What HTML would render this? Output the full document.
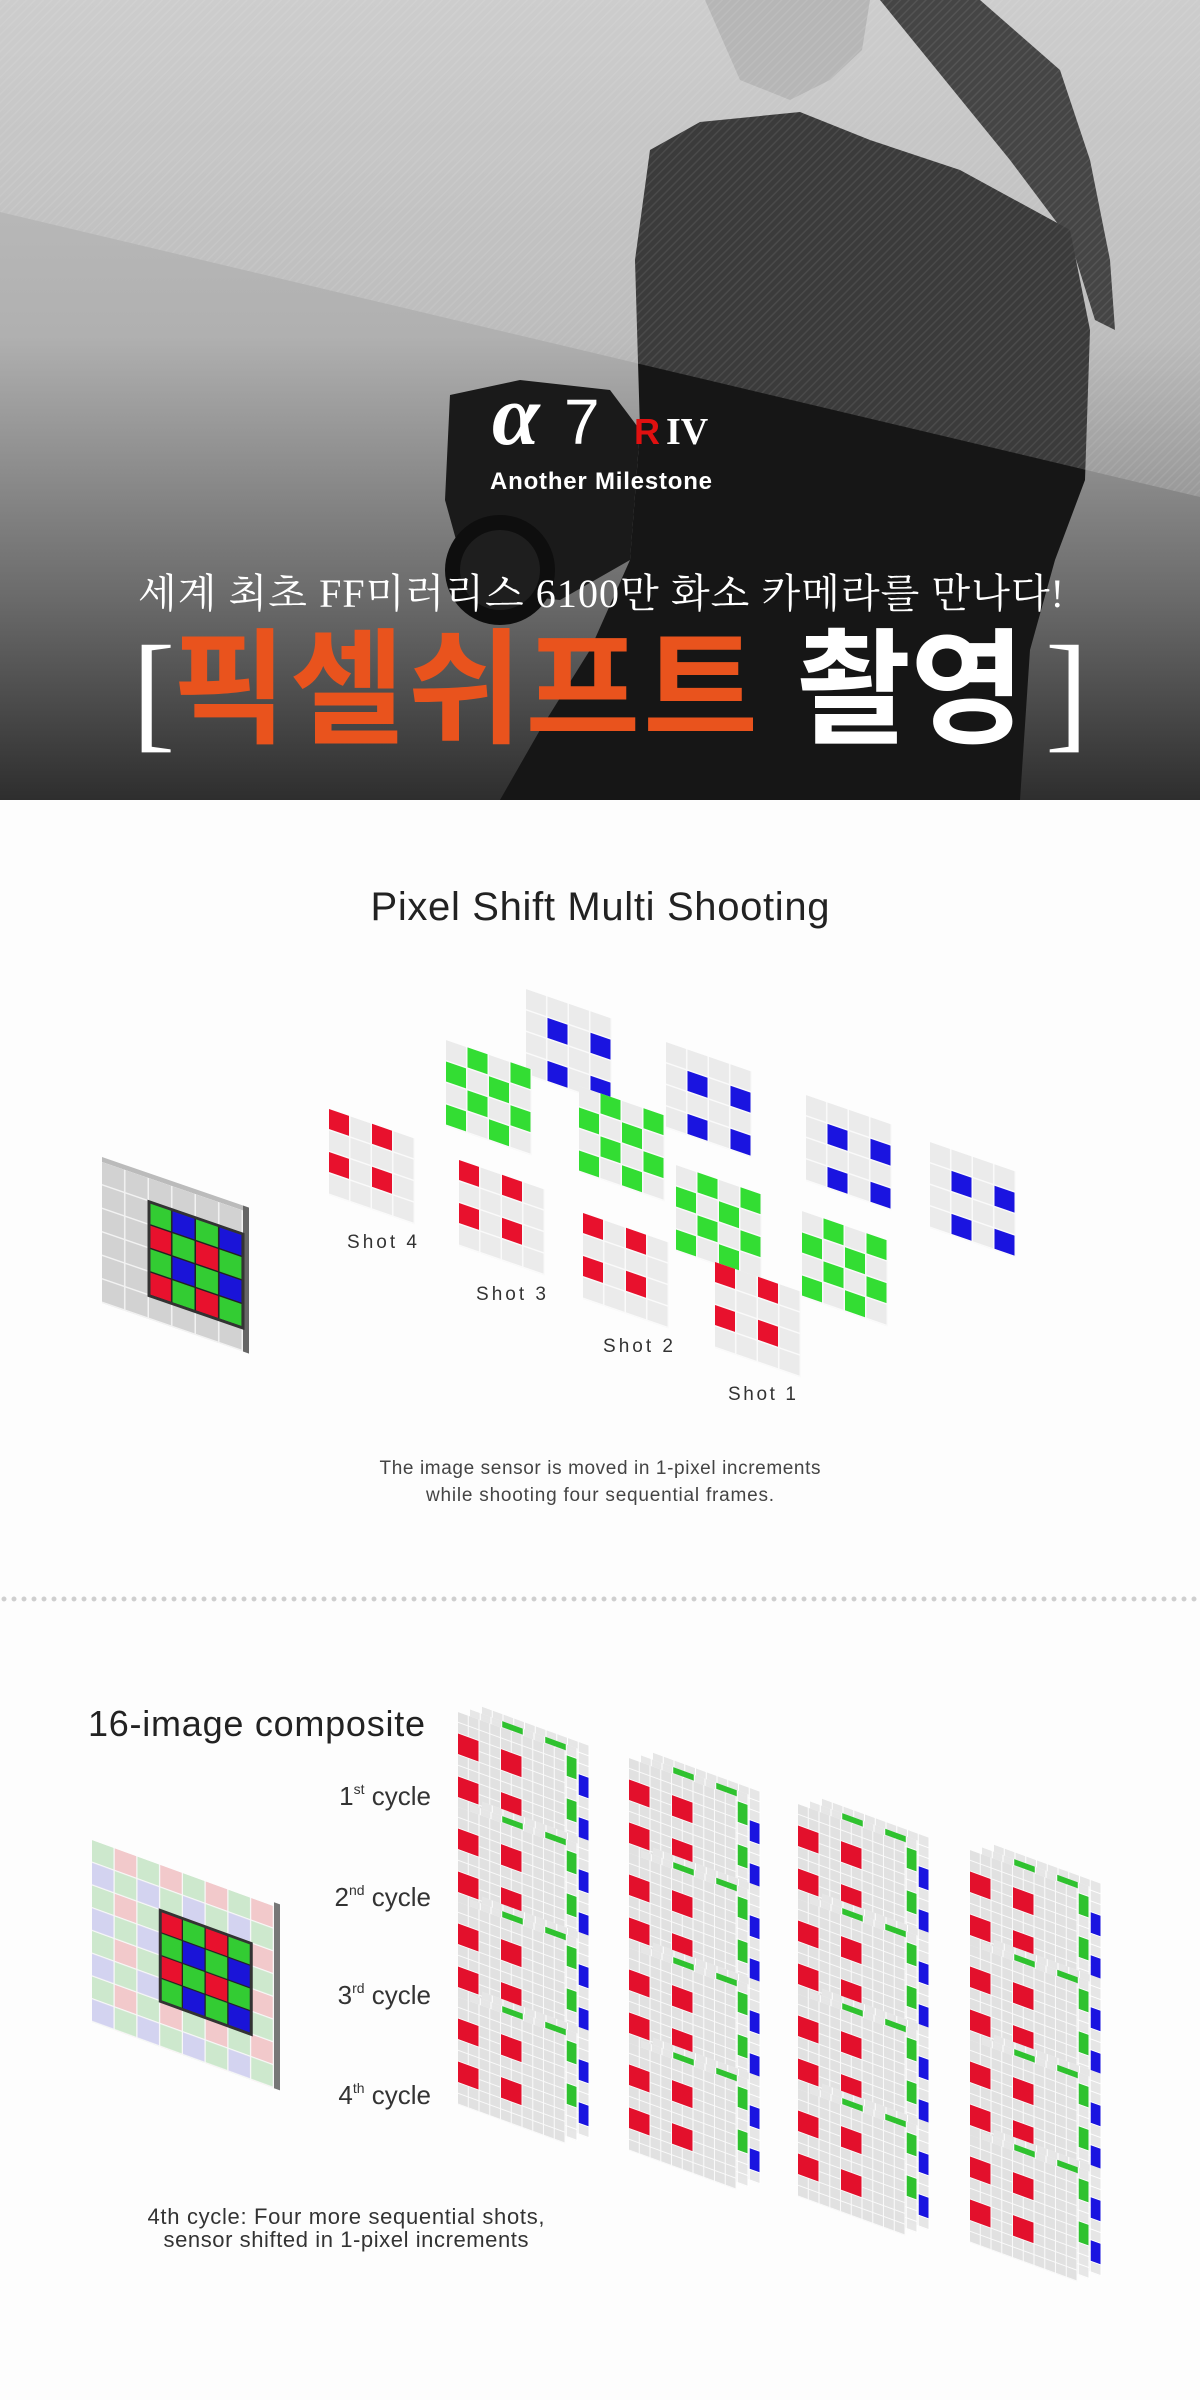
<!DOCTYPE html>
<html><head><meta charset="utf-8"><style>
html,body{margin:0;padding:0;background:#fdfdfd;}
svg{display:block;}
</style></head><body>
<svg width="1200" height="2400" viewBox="0 0 1200 2400" xmlns="http://www.w3.org/2000/svg">
<defs>
<linearGradient id="hb" x1="0" y1="0" x2="0" y2="1">
<stop offset="0" stop-color="#c4c4c4"/><stop offset="0.42" stop-color="#b0b0b0"/><stop offset="0.75" stop-color="#6a6a6a"/><stop offset="1" stop-color="#2e2e2e"/></linearGradient>
<pattern id="hatch" width="6" height="6" patternUnits="userSpaceOnUse" patternTransform="rotate(45)"><rect width="6" height="6" fill="#000" fill-opacity="0"/><rect width="1.5" height="6" fill="#fff" fill-opacity="0.08"/></pattern>
<pattern id="pg1" width="21.5" height="21.5" patternUnits="userSpaceOnUse"><rect width="21.5" height="21.5" fill="#fafafa"/><rect width="20" height="20" fill="#ebebeb"/></pattern>
<pattern id="pg2" width="10.75" height="10.75" patternUnits="userSpaceOnUse"><rect width="10.75" height="10.75" fill="#fff"/><rect width="9.75" height="9.75" fill="#e6e6e6"/></pattern>
<pattern id="ps" width="23.5" height="23.5" patternUnits="userSpaceOnUse"><rect width="23.5" height="23.5" fill="#f2f2f2"/><rect width="22" height="22" fill="#d2d2d2"/></pattern>
<pattern id="bay1" width="47" height="47" patternUnits="userSpaceOnUse"><rect width="47" height="47" fill="#222"/><rect width="22" height="22" fill="#e8112d"/><rect x="23.5" width="22" height="22" fill="#33cc33"/><rect y="23.5" width="22" height="22" fill="#33cc33"/><rect x="23.5" y="23.5" width="22" height="22" fill="#1a14d8"/></pattern>
<pattern id="pas" width="45.5" height="45.5" patternUnits="userSpaceOnUse"><rect width="45.5" height="45.5" fill="#f8f8f8"/><rect width="21.5" height="21.5" fill="#cde8cd"/><rect x="22.75" width="21.5" height="21.5" fill="#f2c9cb"/><rect y="22.75" width="21.5" height="21.5" fill="#d3d3f0"/><rect x="22.75" y="22.75" width="21.5" height="21.5" fill="#cde8cd"/></pattern>
<pattern id="bay2" width="45.5" height="45.5" patternUnits="userSpaceOnUse"><rect width="45.5" height="45.5" fill="#222"/><rect width="21.5" height="21.5" fill="#33cc33"/><rect x="22.75" width="21.5" height="21.5" fill="#e8112d"/><rect y="22.75" width="21.5" height="21.5" fill="#1a14d8"/><rect x="22.75" y="22.75" width="21.5" height="21.5" fill="#33cc33"/></pattern>

<g id="rp"><rect width="86" height="86" fill="url(#pg1)"/><g fill="#e8112d"><rect x="0" y="0" width="20" height="20"/><rect x="43" y="0" width="20" height="20"/><rect x="0" y="43" width="20" height="20"/><rect x="43" y="43" width="20" height="20"/></g></g>
<g id="gp"><rect width="86" height="86" fill="url(#pg1)"/><g fill="#33dd33"><rect x="21.5" y="0" width="20" height="20"/><rect x="64.5" y="0" width="20" height="20"/><rect x="0" y="21.5" width="20" height="20"/><rect x="43" y="21.5" width="20" height="20"/><rect x="21.5" y="43" width="20" height="20"/><rect x="64.5" y="43" width="20" height="20"/><rect x="0" y="64.5" width="20" height="20"/><rect x="43" y="64.5" width="20" height="20"/></g></g>
<g id="bp"><rect width="86" height="86" fill="url(#pg1)"/><g fill="#1a14e0"><rect x="21.5" y="21.5" width="20" height="20"/><rect x="64.5" y="21.5" width="20" height="20"/><rect x="21.5" y="64.5" width="20" height="20"/><rect x="64.5" y="64.5" width="20" height="20"/></g></g>

<g id="sp">
 <g transform="translate(24,-14)"><rect width="107.5" height="107.5" fill="url(#pg2)"/><g fill="#1a14e0"><rect x="96.75" y="32.25" width="9.75" height="20.5"/><rect x="96.75" y="75.25" width="9.75" height="20.5"/></g></g>
 <g transform="translate(12,-7)"><rect width="107.5" height="107.5" fill="url(#pg2)" fill-opacity="0.95"/><g fill="#2fc22f"><rect x="32.25" y="0" width="20.5" height="6"/><rect x="75.25" y="0" width="20.5" height="6"/><rect x="96.75" y="10.75" width="9.75" height="20.5"/><rect x="96.75" y="53.75" width="9.75" height="20.5"/></g></g>
 <rect x="0" y="0" width="107.5" height="107.5" fill="url(#pg2)"/>
 <g fill="#e8112d"><rect x="0" y="21.5" width="20.5" height="20.5"/><rect x="43" y="21.5" width="20.5" height="20.5"/><rect x="0" y="64.5" width="20.5" height="20.5"/><rect x="43" y="64.5" width="20.5" height="20.5"/></g>
 <rect x="0" y="0" width="107.5" height="107.5" fill="#000" fill-opacity="0.02"/>
</g>
</defs>

<!-- HERO -->
<rect x="0" y="0" width="1200" height="800" fill="url(#hb)"/>
<!-- face -->
<path d="M705,0 L870,0 L862,50 L830,80 L790,100 L740,80 Z" fill="#a9a9a9"/>
<!-- hair -->
<path d="M880,0 L980,0 L1060,70 L1090,160 L1110,260 L1115,330 L1095,320 L1070,240 L1010,160 Z" fill="#222"/>
<!-- body -->
<path d="M650,150 L700,122 L800,112 L870,140 L960,170 L1070,230 L1090,330 L1085,480 L1055,560 L1030,650 L1020,800 L500,800 L540,730 L590,650 L630,560 L640,430 L635,260 Z" fill="#161616"/>
<!-- camera -->
<path d="M450,395 L520,380 L610,390 L640,430 L630,560 L560,600 L470,590 L445,500 Z" fill="#1a1a1a"/>
<circle cx="500" cy="570" r="55" fill="#0e0e0e"/><circle cx="500" cy="570" r="40" fill="#1e1e1e"/>
<!-- upper light triangle -->
<polygon points="0,0 1200,0 1200,497 0,212" fill="#fff" fill-opacity="0.16"/>
<polygon points="0,0 1200,0 1200,497 0,212" fill="url(#hatch)"/>

<!-- logo -->
<text x="492" y="444" font-family="Liberation Serif, serif" font-style="italic" font-weight="bold" font-size="86" fill="#fff">α</text>
<text x="564" y="444" font-family="Liberation Sans, sans-serif" font-size="64" fill="#fff">7</text>
<text x="634" y="444" font-family="Liberation Sans, sans-serif" font-weight="bold" font-size="36" fill="#e01010">R</text>
<text x="666" y="444" font-family="Liberation Serif, serif" font-weight="bold" font-size="38" fill="#fff">IV</text>
<text x="490" y="489" font-family="Liberation Sans, sans-serif" font-weight="bold" font-size="24" fill="#fff" textLength="222">Another Milestone</text>

<text x="138" y="607" font-family="Liberation Serif, 'Noto Serif CJK SC', serif" font-size="40" fill="#fff" textLength="926">세계 최초 FF미러리스 6100만 화소 카메라를 만나다!</text>
<text x="132" y="735" font-family="Liberation Serif, serif" font-size="130" fill="#fff">[</text>
<text x="1045" y="735" font-family="Liberation Serif, serif" font-size="130" fill="#fff">]</text>
<text x="172" y="733" font-family="'Noto Sans CJK KR', sans-serif" font-weight="bold" font-size="125" fill="#e9531d" textLength="586">픽셀쉬프트</text>
<text x="796" y="733" font-family="'Noto Sans CJK KR', sans-serif" font-weight="bold" font-size="125" fill="#fff" textLength="229">촬영</text>

<!-- SECTION 2 -->
<text x="600" y="920" text-anchor="middle" font-family="Liberation Sans, sans-serif" font-size="40" fill="#222" textLength="459">Pixel Shift Multi Shooting</text>

<g transform="translate(102,1162) skewY(19)">
 <rect x="0" y="-5" width="141" height="5" fill="#bbb"/>
 <rect width="141" height="141" fill="url(#ps)"/>
 <rect x="141" y="-5" width="6" height="146" fill="#666"/>
 <rect x="47" y="23.5" width="94" height="94" fill="url(#bay1)" stroke="#333" stroke-width="3"/>
</g>

<use href="#bp" transform="translate(526,989) skewY(19)"/>
<use href="#bp" transform="translate(666,1042) skewY(19)"/>
<use href="#bp" transform="translate(806,1095) skewY(19)"/>
<use href="#bp" transform="translate(930,1142) skewY(19)"/>
<use href="#gp" transform="translate(446,1040) skewY(19)"/>
<use href="#gp" transform="translate(579,1086) skewY(19)"/>
<use href="#gp" transform="translate(676,1165) skewY(19)"/>
<use href="#gp" transform="translate(802,1211) skewY(19)"/>
<use href="#rp" transform="translate(329,1109) skewY(19)"/>
<use href="#rp" transform="translate(459,1160) skewY(19)"/>
<use href="#rp" transform="translate(583,1213) skewY(19)"/>
<use href="#rp" transform="translate(715,1262) skewY(19)"/>

<g font-family="Liberation Sans, sans-serif" font-size="19" fill="#333">
<text x="347" y="1248" textLength="70">Shot 4</text>
<text x="476" y="1300" textLength="70">Shot 3</text>
<text x="603" y="1352" textLength="70">Shot 2</text>
<text x="728" y="1400" textLength="68">Shot 1</text>
</g>
<g font-family="Liberation Sans, sans-serif" font-size="19" fill="#444" text-anchor="middle">
<text x="600" y="1474" textLength="441">The image sensor is moved in 1-pixel increments</text>
<text x="600" y="1501" textLength="348">while shooting four sequential frames.</text>
</g>

<line x1="4" y1="1599" x2="1200" y2="1599" stroke="#cfcfcf" stroke-width="5" stroke-linecap="round" stroke-dasharray="0 10"/>

<!-- SECTION 3 -->
<text x="88" y="1736" font-family="Liberation Sans, sans-serif" font-size="36" fill="#222" textLength="337">16-image composite</text>
<g font-family="Liberation Sans, sans-serif" font-size="26" fill="#333" text-anchor="end">
<text x="431" y="1805">1<tspan font-size="14" dy="-11">st</tspan><tspan dy="11"> cycle</tspan></text>
<text x="431" y="1906">2<tspan font-size="14" dy="-11">nd</tspan><tspan dy="11"> cycle</tspan></text>
<text x="431" y="2004">3<tspan font-size="14" dy="-11">rd</tspan><tspan dy="11"> cycle</tspan></text>
<text x="431" y="2104">4<tspan font-size="14" dy="-11">th</tspan><tspan dy="11"> cycle</tspan></text>
</g>

<g transform="translate(92,1840) skewY(20)">
 <rect width="182" height="182" fill="url(#pas)"/>
 <rect x="182" y="-4" width="6" height="186" fill="#777"/>
 <rect x="68.25" y="45.5" width="91" height="91" fill="url(#bay2)" stroke="#333" stroke-width="3"/>
</g>

<g font-family="Liberation Sans, sans-serif" font-size="22" fill="#333" text-anchor="middle">
<text x="346" y="2224" textLength="397">4th cycle: Four more sequential shots,</text>
<text x="346" y="2247" textLength="365">sensor shifted in 1-pixel increments</text>
</g>

<!-- stacks -->
<use href="#sp" transform="translate(458,1712) skewY(20)"/>
<use href="#sp" transform="translate(458,1807) skewY(20)"/>
<use href="#sp" transform="translate(458,1902) skewY(20)"/>
<use href="#sp" transform="translate(458,1997) skewY(20)"/>

<use href="#sp" transform="translate(629,1758) skewY(20)"/>
<use href="#sp" transform="translate(629,1853) skewY(20)"/>
<use href="#sp" transform="translate(629,1948) skewY(20)"/>
<use href="#sp" transform="translate(629,2043) skewY(20)"/>

<use href="#sp" transform="translate(798,1804) skewY(20)"/>
<use href="#sp" transform="translate(798,1899) skewY(20)"/>
<use href="#sp" transform="translate(798,1994) skewY(20)"/>
<use href="#sp" transform="translate(798,2089) skewY(20)"/>

<use href="#sp" transform="translate(970,1850) skewY(20)"/>
<use href="#sp" transform="translate(970,1945) skewY(20)"/>
<use href="#sp" transform="translate(970,2040) skewY(20)"/>
<use href="#sp" transform="translate(970,2135) skewY(20)"/>
</svg>
</body></html>
